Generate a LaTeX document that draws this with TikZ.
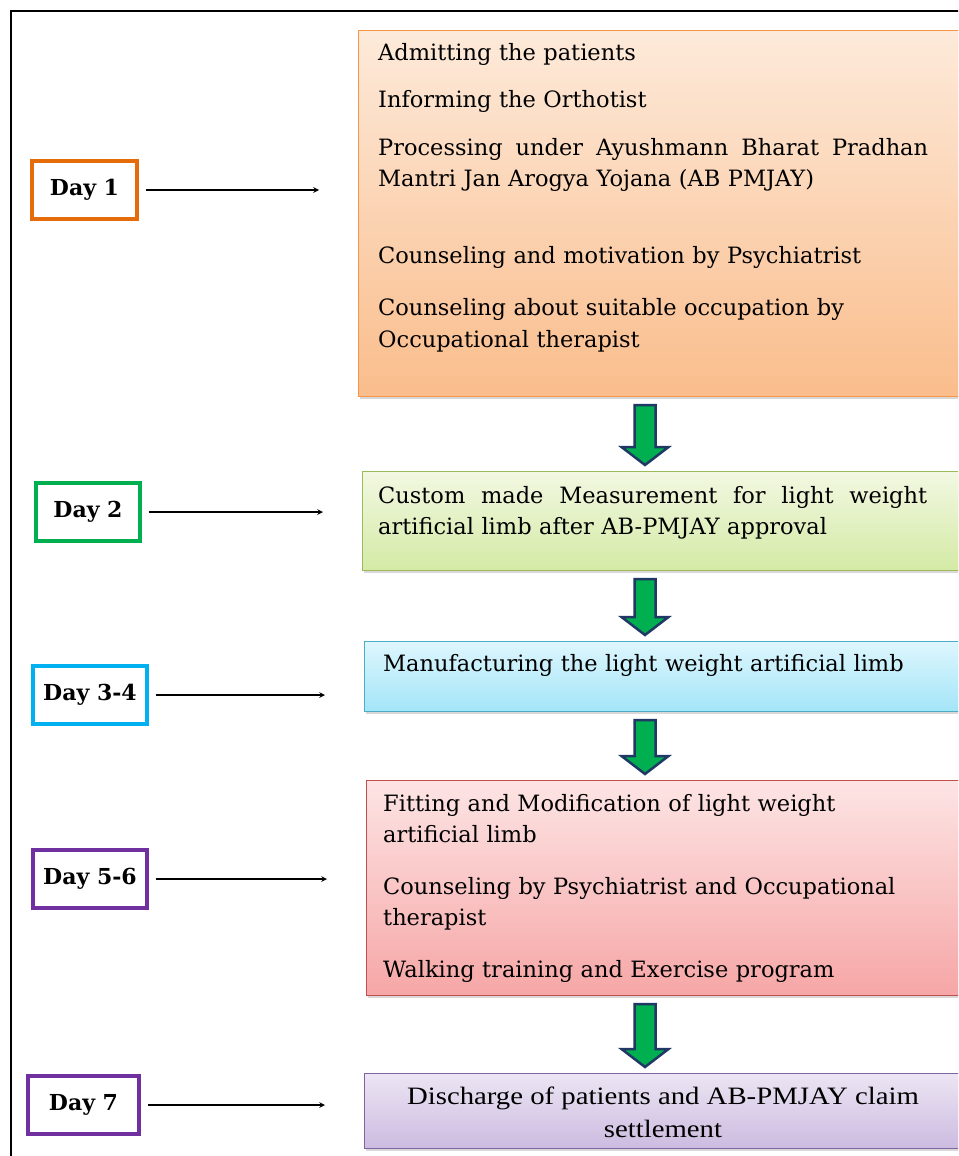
\documentclass[tikz,border=0pt]{standalone}
\usepackage{fontspec}
\setmainfont{DejaVu Serif}
\newfontfamily\settlefont[FakeStretch=1.15]{Liberation Serif}
\usepackage{tikz}
\usetikzlibrary{positioning}
\usetikzlibrary{calc, shadows}
\usetikzlibrary{arrows}

\definecolor{dayorange}{HTML}{E46C0A}
\definecolor{daygreen}{HTML}{00B050}
\definecolor{daycyan}{HTML}{00B0F0}
\definecolor{daypurple}{HTML}{7030A0}
\definecolor{arrowgreen}{HTML}{00B050}
\definecolor{arrownavy}{HTML}{1F3864}

% block arrow from one step box down to the next
\newcommand{\stepflow}[2]{%
	\draw[bigarrow] ($(#1.south -| flowx)+(-10.5,8)$) -- ($(#2.north -| flowx)+(-10.5,-24)$)
		-- ++(-13,0) -- ($(#2.north -| flowx)+(0,-6)$) -- ($(#2.north -| flowx)+(23.5,-24)$)
		-- ++(-13,0) -- ($(#1.south -| flowx)+(10.5,8)$) -- cycle;}

\begin{document}
\begin{tikzpicture}[x=1pt, y=-1pt, >=stealth,
		daybox/.style={draw, line width=3.5pt, fill=white, minimum height=58pt,
			font=\fontsize{22}{26}\selectfont\bfseries},
		stepbox/.style={draw, line width=1.2pt, anchor=north west, inner sep=0pt,
			drop shadow={shadow xshift=1pt, shadow yshift=-2.5pt, fill=black!30}},
		boxtext/.style={anchor=north west, inner sep=0pt, align=left,
			font=\fontsize{22.5}{31.5}\selectfont},
		dayarrow/.style={->, line width=1.5pt, shorten <=7pt, shorten >=39pt},
		bigarrow/.style={draw=arrownavy, fill=arrowgreen, line width=2.5pt, line join=miter}
	]
	
	\useasboundingbox (0,0) rectangle (958,1156);
	\clip (0,0) rectangle (958,1156);
	\draw[line width=2.6pt] (11,11) rectangle (1000,1200);
	
	% step boxes
	\node[stepbox, draw={rgb,255:red,247;green,150;blue,70}, top color={rgb,255:red,253;green,234;blue,218}, bottom color={rgb,255:red,250;green,189;blue,140},
		minimum width=604pt, minimum height=366pt] (b1) at (358,30) {};
	\node[stepbox, draw={rgb,255:red,155;green,187;blue,89}, top color={rgb,255:red,242;green,248;blue,226}, bottom color={rgb,255:red,212;green,234;blue,165},
		minimum width=600pt, minimum height=99pt] (b2) at (362,471) {};
	\node[stepbox, draw={rgb,255:red,75;green,172;blue,198}, top color={rgb,255:red,222;green,246;blue,253}, bottom color={rgb,255:red,163;green,229;blue,248},
		minimum width=598pt, minimum height=70pt] (b3) at (364,641) {};
	\node[stepbox, draw={rgb,255:red,192;green,80;blue,77}, top color={rgb,255:red,253;green,228;blue,228}, bottom color={rgb,255:red,246;green,166;blue,166},
		minimum width=596pt, minimum height=215pt] (b4) at (366,780) {};
	\node[stepbox, draw={rgb,255:red,128;green,100;blue,162}, top color={rgb,255:red,236;green,229;blue,243}, bottom color={rgb,255:red,204;green,187;blue,224},
		minimum width=598pt, minimum height=75pt] (b5) at (364,1073) {};
	
	% texts
	\node[boxtext, text width=550pt] (t1) at (378,43) {Admitting the patients\\[16pt]
		Informing the Orthotist\\[16pt]
		\leavevmode\hbox to 550pt{Processing\hfill under\hfill Ayushmann\hfill Bharat\hfill Pradhan}\\
		Mantri Jan Arogya Yojana (AB PMJAY)\\[45.5pt]
		Counseling and motivation by Psychiatrist\\[20.5pt]
		Counseling about suitable occupation by\\
		Occupational therapist};
	\node[boxtext, text width=549pt] (t2) at (378,486) {\leavevmode\hbox to 549pt{Custom\hfill made\hfill Measurement\hfill for\hfill light\hfill weight}\\
		artificial limb after AB-PMJAY approval};
	\node[boxtext, text width=550pt] (t3) at (383,654) {Manufacturing the light weight artificial limb};
	\node[boxtext, text width=550pt] (t4) at (383,794) {Fitting and Modification of light weight\\
		artificial limb\\[20pt]
		Counseling by Psychiatrist and Occupational\\
		therapist\\[20pt]
		Walking training and Exercise program};
	\node[anchor=north, inner sep=0pt, align=center, font=\settlefont\fontsize{25}{33}\selectfont] (t5) at (663,1087)
		{Discharge of patients and AB-PMJAY claim\\ settlement};
	
	% day labels
	\node[daybox, draw=dayorange, minimum width=105pt] (d1) at (84.5,190) {Day 1};
	\node[daybox, draw=daygreen, minimum width=104pt] (d2) at (88,512) {Day 2};
	\node[daybox, draw=daycyan, minimum width=114pt] (d3) at (90,695) {Day 3-4};
	\node[daybox, draw=daypurple, minimum width=114pt] (d4) at (90,879) {Day 5-6};
	\node[daybox, draw=daypurple, minimum width=111pt] (d5) at (83.5,1105) {Day 7};
	
	\draw[dayarrow] (d1.east) -- (d1.east -| b1.west);
	\draw[dayarrow] (d2.east) -- (d2.east -| b2.west);
	\draw[dayarrow] (d3.east) -- (d3.east -| b3.west);
	\draw[dayarrow] (d4.east) -- (d4.east -| b4.west);
	\draw[dayarrow] (d5.east) -- (d5.east -| b5.west);
	
	\coordinate (flowx) at (645,0);
	\stepflow{b1}{b2}
	\stepflow{b2}{b3}
	\stepflow{b3}{b4}
	\stepflow{b4}{b5}
\end{tikzpicture}
\end{document}
